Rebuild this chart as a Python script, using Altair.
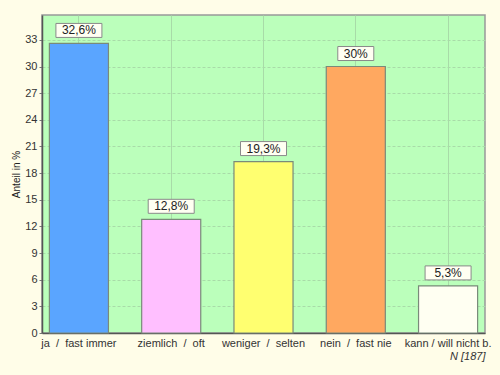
import altair as alt
import pandas as pd

NB = "\u00a0"
categories = ["ja " + NB + "/ " + NB + "fast immer", "ziemlich " + NB + "/ " + NB + "oft",
              "weniger " + NB + "/ " + NB + "selten", "nein " + NB + "/ " + NB + "fast nie",
              "kann / will nicht b."]
values = [32.6, 12.8, 19.3, 30.0, 5.3]
labels = ["32,6%", "12,8%", "19,3%", "30%", "5,3%"]
colors = ["#5AA5FF", "#FFBFFF", "#FFFF70", "#FFA860", "#FFFFF2"]
y_ticks = [0, 3, 6, 9, 12, 15, 18, 21, 24, 27, 30, 33]

df = pd.DataFrame({"cat": categories, "val": values, "label": labels, "color": colors})

yscale = alt.Scale(domain=[0, 35.8], nice=False, zero=True)

x = alt.X("cat:N", sort=categories,
          scale=alt.Scale(paddingInner=0.36, paddingOuter=0.08),
          axis=alt.Axis(title="N [187]", titleAnchor="end", titleFontStyle="italic",
                        titleFontWeight="normal", titleFont="Liberation Sans", titleFontSize=11,
                        titleColor="#333", titlePadding=2,
                        labelAngle=0, labelFont="Liberation Sans", labelFontSize=11,
                        labelColor="#333", labelPadding=4, ticks=False, labelOverlap=False,
                        domainColor="#555", domainWidth=1.5,
                        grid=True, gridColor="#A8DBA8", gridWidth=1, bandPosition=0.5))
y = alt.Y("val:Q", scale=yscale,
          axis=alt.Axis(title="Anteil in %", values=y_ticks, titleFont="Liberation Sans",
                        titleFontSize=10, titleFontWeight="normal", titleColor="#222",
                        titlePadding=3, labelOverlap=False,
                        labelFont="Liberation Sans", labelFontSize=11, labelColor="#333",
                        tickSize=3, tickColor="#777", labelPadding=2,
                        domainColor="#555", domainWidth=1.5,
                        grid=True, gridColor="#A8DBA8", gridDash=[3, 2], gridWidth=1))

bars = alt.Chart(df).mark_bar(stroke="#7A8A7A", strokeWidth=1.2).encode(
    x=x, y=y, color=alt.Color("color:N", scale=None)
)

base = alt.Chart(df).encode(x=x, y=y, y2="val:Q")
box_wide = base.transform_filter("length(datum.label) > 3").mark_bar(
    width=46, yOffset=-6, y2Offset=-20, fill="#FFFFF2", stroke="#8A8A8A", strokeWidth=1)
box_narrow = base.transform_filter("length(datum.label) <= 3").mark_bar(
    width=36, yOffset=-6, y2Offset=-20, fill="#FFFFF2", stroke="#8A8A8A", strokeWidth=1)
text = alt.Chart(df).mark_text(font="Liberation Sans", fontSize=12, color="#222",
                                baseline="middle", dy=-13).encode(
    x=x, y=y, text="label:N")

chart = alt.layer(bars, box_wide, box_narrow, text).properties(
    width=443, height=318,
    autosize=alt.AutoSizeParams(type="none"),
    padding={"left": 42, "top": 15, "right": 15, "bottom": 42},
    background="#FFFDE8",
).configure_view(fill="#BBFFBB", stroke="#999999", strokeWidth=1.5)

chart.save("out.html", embed_options={"renderer": "svg", "actions": False})
